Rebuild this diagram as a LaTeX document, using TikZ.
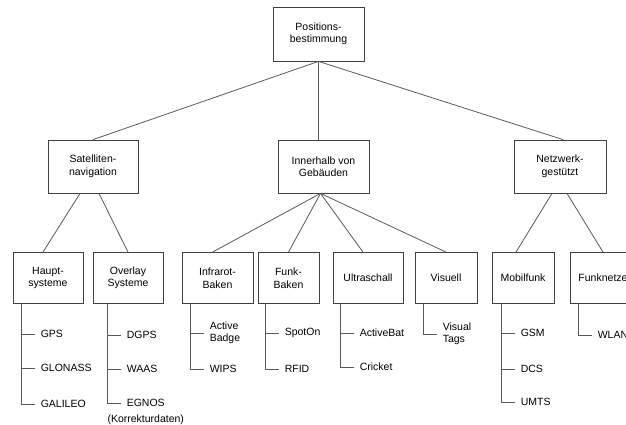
\documentclass[tikz,border=0pt]{standalone}
\usepackage{fontspec}
\setmainfont{Liberation Sans}
\usetikzlibrary{positioning,calc}
\definecolor{boxgray}{gray}{0.25}
\definecolor{linegray}{gray}{0.35}
\tikzset{
  box/.style={draw=boxgray, line width=0.8pt, inner sep=0pt, align=center,
    minimum height=51pt},
  leaf/.style={anchor=west, inner xsep=6pt, inner ysep=0pt, align=left},
  conn/.style={draw=linegray, line width=0.8pt},
}
\begin{document}
\begin{tikzpicture}[x=1pt, y=-1pt, font=\fontsize{10.5}{12.5}\selectfont]
  \useasboundingbox (0,0) rectangle (626,425);%
  \clip (0,0) rectangle (626,425);%
  % root and second level
  \node[box, minimum width=91pt, minimum height=54pt] (pos) at (318.5,34) {Positions-\\bestimmung};%
  \node[box, minimum width=90pt, minimum height=53pt] (sat) at (93,166.5) {Satelliten-\\navigation};%
  \node[box, minimum width=91pt, minimum height=53pt] (inner) at (323.5,166.5) {Innerhalb von\\Gebäuden};%
  \node[box, minimum width=92pt, minimum height=53pt] (netz) at (560,166.5) {Netzwerk-\\gestützt};%
  % third level
  \node[box, minimum width=70pt] (haupt) at (48,278) {Haupt-\\systeme};%
  \node[box, minimum width=70pt] (overlay) at (128,278) {Overlay\\Systeme};%
  \node[box, minimum width=71pt] (infrarot) at (217.5,278) {Infrarot-\\Baken};%
  \node[box, minimum width=61pt] (funk) at (288.5,278) {Funk-\\Baken};%
  \node[box, minimum width=70pt] (ultra) at (368,278) {Ultraschall};%
  \node[box, minimum width=62pt] (visuell) at (446,278) {Visuell};%
  \node[box, minimum width=62pt] (mobil) at (523,278) {Mobilfunk};%
  \node[box, minimum width=66pt] (funknetze) at (603,278) {Funknetze};%
  % tree edges
  \draw[conn] (pos.south) -- (sat.north);%
  \draw[conn] (pos.south) -- (pos.south |- inner.north);%
  \draw[conn] (pos.south) -- ([xshift=3pt]netz.north);%
  \draw[conn] ([xshift=-13pt]sat.south) -- ([xshift=-5pt]haupt.north);%
  \draw[conn] ([xshift=6pt]sat.south) -- (overlay.north);%
  \coordinate (ij) at ([xshift=-3pt]inner.south);%
  \draw[conn] (ij) -- ([xshift=-5pt]infrarot.north);%
  \draw[conn] (ij) -- (funk.north);%
  \draw[conn] (ij) -- ([xshift=-5pt]ultra.north);%
  \draw[conn] (ij) -- (visuell.north);%
  \draw[conn] ([xshift=-8pt]netz.south) -- ([xshift=-7pt]mobil.north);%
  \draw[conn] ([xshift=7pt]netz.south) -- (funknetze.north);%
  % leaves
  \coordinate (hx) at ([xshift=9pt]haupt.south west);%
  \node[leaf] (gps) at ([xshift=13pt]hx |- 0,334) {GPS};%
  \node[leaf] (glonass) at ([xshift=13pt]hx |- 0,368) {GLONASS};%
  \node[leaf] (galileo) at ([xshift=13pt]hx |- 0,404) {GALILEO};%
  \coordinate (ox) at ([xshift=15pt]overlay.south west);%
  \node[leaf] (dgps) at ([xshift=13pt]ox |- 0,335) {DGPS};%
  \node[leaf] (waas) at ([xshift=13pt]ox |- 0,369) {WAAS};%
  \node[leaf] (egnos) at ([xshift=13pt]ox |- 0,403) {EGNOS};%
  \node (korr) at ([yshift=-17pt]egnos.center) {(Korrekturdaten)};%
  \coordinate (ix) at ([xshift=9pt]infrarot.south west);%
  \node[leaf] (badge) at ([xshift=13pt]ix |- 0,333) {Active\\Badge};%
  \node[leaf] (wips) at ([xshift=13pt]ix |- 0,369) {WIPS};%
  \coordinate (fx) at ([xshift=8pt]funk.south west);%
  \node[leaf] (spoton) at ([xshift=13pt]fx |- 0,333) {SpotOn};%
  \node[leaf] (rfid) at ([xshift=13pt]fx |- 0,369) {RFID};%
  \coordinate (ux) at ([xshift=8pt]ultra.south west);%
  \node[leaf] (activebat) at ([xshift=13pt]ux |- 0,333) {ActiveBat};%
  \node[leaf] (cricket) at ([xshift=13pt]ux |- 0,367) {Cricket};%
  \coordinate (vx) at ([xshift=9pt]visuell.south west);%
  \node[leaf] (tags) at ([xshift=13pt]vx |- 0,334) {Visual\\Tags};%
  \coordinate (mx) at ([xshift=10pt]mobil.south west);%
  \node[leaf] (gsm) at ([xshift=13pt]mx |- 0,333) {GSM};%
  \node[leaf] (dcs) at ([xshift=13pt]mx |- 0,369) {DCS};%
  \node[leaf] (umts) at ([xshift=13pt]mx |- 0,402) {UMTS};%
  \coordinate (nx) at ([xshift=9pt]funknetze.south west);%
  \node[leaf] (wlan) at ([xshift=13pt]nx |- 0,335) {WLAN};%
  % leaf connectors
  \draw[conn] (hx) |- (galileo.west);%
  \foreach \l in {gps, glonass} \draw[conn] (hx |- \l.west) -- (\l.west);%
  \draw[conn] (ox) |- (egnos.west);%
  \foreach \l in {dgps, waas} \draw[conn] (ox |- \l.west) -- (\l.west);%
  \draw[conn] (ix) |- (wips.west);%
  \draw[conn] (ix |- badge.west) -- (badge.west);%
  \draw[conn] (fx) |- (rfid.west);%
  \draw[conn] (fx |- spoton.west) -- (spoton.west);%
  \draw[conn] (ux) |- (cricket.west);%
  \draw[conn] (ux |- activebat.west) -- (activebat.west);%
  \draw[conn] (vx) |- (tags.west);%
  \draw[conn] (mx) |- (umts.west);%
  \foreach \l in {gsm, dcs} \draw[conn] (mx |- \l.west) -- (\l.west);%
  \draw[conn] (nx) |- (wlan.west);%
\end{tikzpicture}
\end{document}
